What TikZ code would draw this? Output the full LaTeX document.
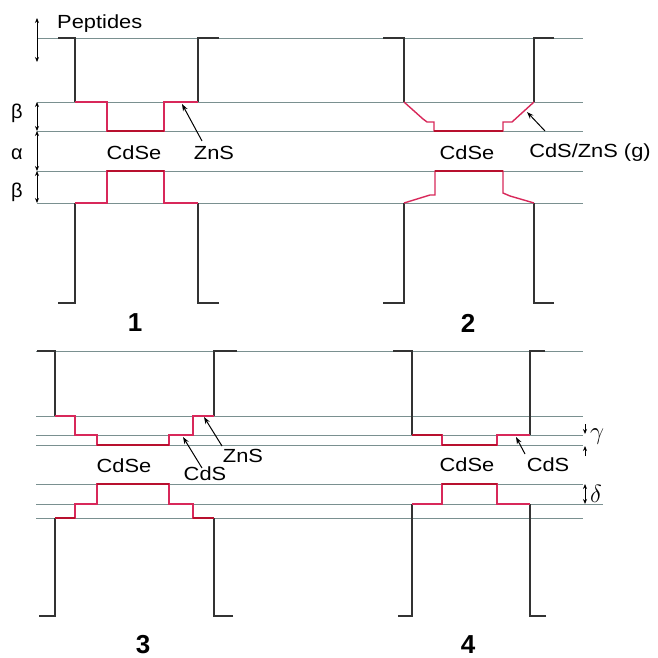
\documentclass[tikz,border=0pt]{standalone}
\usepackage{fontspec}
\setmainfont{Liberation Sans}
\usetikzlibrary{arrows.meta}
\definecolor{guide}{HTML}{7A9090}
\definecolor{wallc}{HTML}{333333}
\definecolor{shellred}{HTML}{D8285A}
\definecolor{corered}{HTML}{B8102E}
\tikzset{
  guideline/.style={draw=guide, line width=0.9pt},
  wallline/.style={draw=wallc, line width=1.3pt},
  shellline/.style={draw=shellred, line width=1.4pt, line join=miter},
  coreline/.style={draw=corered, line width=1.4pt},
  dim/.style={draw=black, line width=0.9pt, {Stealth[length=5pt,width=4pt]}-{Stealth[length=5pt,width=4pt]}},
  dimone/.style={draw=black, line width=0.9pt, -{Stealth[length=5pt,width=4pt]}},
  pointer/.style={draw=black, line width=1pt, -{Stealth[length=7pt,width=5pt]}},
  lab/.style={font=\fontsize{19}{19}\selectfont, inner sep=0pt, xscale=1.15},
  greek/.style={font=\fontsize{20}{20}\selectfont, inner sep=0pt},
  greekm/.style={font=\fontsize{24}{24}\selectfont, inner sep=0pt},
  num/.style={font=\fontsize{26}{26}\selectfont\bfseries, inner sep=0pt},
}
\begin{document}
\begin{tikzpicture}[x=1pt,y=-1pt]
\useasboundingbox (0,0) rectangle (658,658);
\fill[white] (0,0) rectangle (658,658);

% ---------- top row guide lines ----------
\foreach \yy in {38,102,131,171,203}{
  \draw[guideline] (37,\yy) -- (583,\yy);
}
% ---------- bottom row guide lines ----------
\foreach \yy in {351,416,435,445,484,518}{
  \draw[guideline] (36,\yy) -- (583,\yy);
}
\draw[guideline] (36,504) -- (603,504);

% ================= Panel 1 =================
\draw[wallline] (58,38) -- (75,38) -- (75,102);
\draw[wallline] (219,38) -- (198,38) -- (198,102);
\draw[wallline] (58,303) -- (75,303) -- (75,203);
\draw[wallline] (219,303) -- (198,303) -- (198,203);
\draw[shellline] (75,102) -- (107,102) -- (107,131) -- (164,131) -- (164,102) -- (198,102);
\draw[shellline] (75,203) -- (107,203) -- (107,171) -- (164,171) -- (164,203) -- (198,203);
\draw[coreline] (107,131) -- (164,131);
\draw[coreline] (107,171) -- (164,171);

\draw[dim] (37,18) -- (37,62);
\draw[dim] (37,102) -- (37,131);
\draw[dim] (37,131) -- (37,171);
\draw[dim] (37,171) -- (37,203);
\node[lab, anchor=west] (pep) at (57,24) {Peptides};
\node[greek] (b1) at (17,113) {β};
\node[greek] (a1) at (17,154) {α};
\node[greek] (b2) at (17,192) {β};

\node[lab] (cdse1) at (134,153) {CdSe};
\node[lab] (zns1) at (214,153) {ZnS};
\coordinate (zns1t) at (182,104);
\draw[pointer] (202,141) -- (zns1t);
\node[num] (n1) at (135,323) {1};

% ================= Panel 2 =================
\draw[wallline] (383,38) -- (404,38) -- (404,102);
\draw[wallline] (554,38) -- (534,38) -- (534,102);
\draw[wallline] (383,303) -- (404,303) -- (404,203);
\draw[wallline] (554,303) -- (534,303) -- (534,203);
\draw[shellline] (404,102) -- (423,119) -- (427,122) -- (434,122) -- (434,131) -- (503,131) -- (503,122) -- (512,122) -- (534,102);
\draw[shellline] (404,203) -- (430,195) -- (435,195) -- (435,171) -- (503,171) -- (503,193) -- (510,196) -- (534,203);
\draw[coreline] (434,131) -- (503,131);
\draw[coreline] (435,171) -- (503,171);

\node[lab] (cdse2) at (467,153) {CdSe};
\node[lab] (cds2) at (590,153) {CdS/ZnS (g)};
\coordinate (cds2t) at (527,112);
\draw[pointer] (545,131) -- (cds2t);
\node[num] (n2) at (468,323) {2};

% ================= Panel 3 =================
\draw[wallline] (37,351) -- (55,351) -- (55,416);
\draw[wallline] (237,351) -- (214,351) -- (214,416);
\draw[wallline] (39,616) -- (55,616) -- (55,518);
\draw[wallline] (233,616) -- (214,616) -- (214,518);
\draw[shellline] (55,416) -- (75,416) -- (75,435) -- (97,435) -- (97,445) -- (169,445) -- (169,435) -- (193,435) -- (193,416) -- (214,416);
\draw[shellline] (55,518) -- (75,518) -- (75,504) -- (97,504) -- (97,484) -- (169,484) -- (169,504) -- (193,504) -- (193,518) -- (214,518);
\draw[coreline] (97,445) -- (169,445);
\draw[coreline] (97,484) -- (169,484);
\draw[coreline] (55,518) -- (75,518);
\draw[coreline] (193,518) -- (214,518);

\node[lab] (cdse3) at (124,466) {CdSe};
\node[lab] (cds3) at (205,474) {CdS};
\node[lab] (zns3) at (243,456) {ZnS};
\coordinate (cds3t) at (183,437);
\coordinate (zns3t) at (204,417);
\draw[pointer] (202,468) -- (cds3t);
\draw[pointer] (222,446) -- (zns3t);
\node[num] (n3) at (143,645) {3};

% ================= Panel 4 =================
\draw[wallline] (393,351) -- (412,351) -- (412,435);
\draw[wallline] (545,351) -- (530,351) -- (530,435);
\draw[wallline] (398,616) -- (412,616) -- (412,504);
\draw[wallline] (546,616) -- (530,616) -- (530,504);
\draw[shellline] (412,435) -- (442,435) -- (442,445) -- (497,445) -- (497,435) -- (530,435);
\draw[shellline] (412,504) -- (442,504) -- (442,484) -- (497,484) -- (497,504) -- (530,504);
\draw[coreline] (442,445) -- (497,445);
\draw[coreline] (442,484) -- (497,484);
\draw[coreline] (412,435) -- (442,435);

\node[lab] (cdse4) at (467,465) {CdSe};
\node[lab] (cds4) at (548,465) {CdS};
\coordinate (cds4t) at (516,437);
\draw[pointer] (525,454) -- (cds4t);
\node[num] (n4) at (468,645) {4};

\draw[dimone] (585,424) -- (585,434);
\draw[dimone] (585,456) -- (585,446);
\draw[dim] (585,484) -- (585,504);
\node[greekm, anchor=west] (gam) at (590,437) {$\gamma$};
\node[greekm, anchor=west] (del) at (590,494) {$\delta$};
\end{tikzpicture}
\end{document}
